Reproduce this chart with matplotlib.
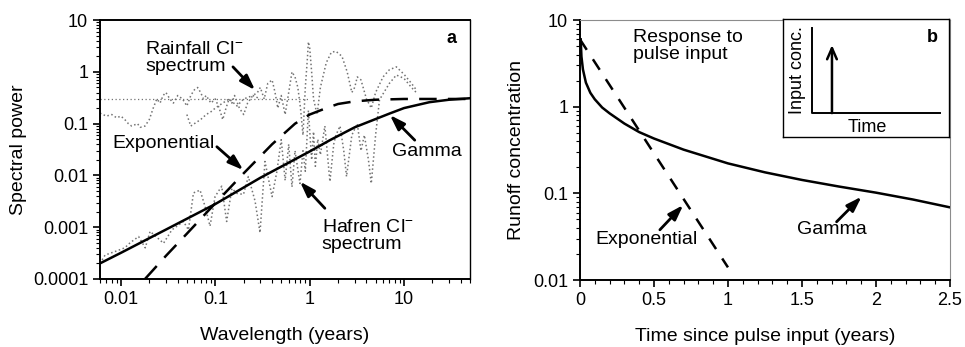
import numpy as np
import matplotlib
matplotlib.use("Agg")
import matplotlib.pyplot as plt

plt.rcParams['font.family'] = ['Liberation Sans', 'DejaVu Sans']
plt.rcParams['mathtext.default'] = 'regular'

# ---- panel a : spectra (wavelength in years, spectral power) ----
gamma_wl = [0.006, 0.01, 0.03, 0.1, 0.3, 1, 1.64, 3, 7.1, 10, 18.6, 30, 50]
gamma_pw = [2.0e-4, 3.2e-4, 9.0e-4, 2.8e-3, 9.0e-3, 0.029, 0.048, 0.085, 0.158, 0.2, 0.26, 0.29, 0.31]

expo_wl = [0.018, 0.03, 0.05, 0.1, 0.2, 0.4, 0.7, 1, 1.5, 2, 3, 5, 10, 50]
expo_pw = [1.0e-4, 2.8e-4, 7.5e-4, 2.9e-3, 1.1e-2, 0.04, 0.1, 0.15, 0.2, 0.24, 0.27, 0.29, 0.30, 0.30]

white_wl = [0.006, 1.0]
white_pw = [0.3, 0.3]

rain_wl = [0.006, 0.007, 0.008, 0.009, 0.010, 0.011, 0.012, 0.013, 0.015, 0.016,
           0.018, 0.020, 0.022, 0.024, 0.026, 0.028, 0.030, 0.033, 0.036, 0.040,
           0.045, 0.050, 0.055, 0.060, 0.065, 0.070, 0.075, 0.080, 0.090, 0.10,
           0.11, 0.12, 0.13, 0.14, 0.15, 0.16, 0.18, 0.20, 0.22, 0.25,
           0.28, 0.30, 0.33, 0.36, 0.40, 0.43, 0.46, 0.50, 0.55, 0.60,
           0.65, 0.70, 0.75, 0.80, 0.85, 0.90, 0.95, 0.97, 1.0, 1.05,
           1.1, 1.2, 1.3, 1.5, 1.7, 1.9, 2.2, 2.5, 2.8, 3.0,
           3.2, 3.5, 4.0, 4.5, 5.0, 6.0, 7.0, 8.3, 10, 12, 13.5]
rain_pw = [0.16, 0.14, 0.15, 0.13, 0.14, 0.12, 0.10, 0.09, 0.10, 0.085,
           0.09, 0.12, 0.20, 0.30, 0.25, 0.35, 0.40, 0.30, 0.25, 0.35,
           0.30, 0.22, 0.35, 0.45, 0.50, 0.40, 0.30, 0.35, 0.25, 0.30,
           0.20, 0.12, 0.20, 0.30, 0.25, 0.35, 0.20, 0.15, 0.25, 0.35,
           0.40, 0.50, 0.30, 0.60, 0.70, 0.40, 0.20, 0.35, 0.15, 0.40,
           1.0, 0.80, 0.50, 0.20, 0.06, 0.50, 2.0, 3.8, 3.0, 1.0,
           0.30, 0.15, 0.50, 1.5, 2.4, 2.5, 2.0, 1.0, 0.40, 0.50,
           0.80, 0.70, 0.30, 0.20, 0.40, 0.80, 1.1, 1.25, 0.90, 0.60, 0.45]

rain2_wl = [0.05, 0.055, 0.06, 0.07, 0.08, 0.09, 0.1, 0.12, 0.14, 0.17, 0.2, 0.25, 0.3]
rain2_pw = [0.15, 0.09, 0.1, 0.12, 0.15, 0.17, 0.2, 0.25, 0.3, 0.22, 0.3, 0.35, 0.3]

hafren_wl = [0.006, 0.0068, 0.0087, 0.011, 0.0125, 0.0154, 0.0181, 0.0204, 0.025, 0.0283,
             0.0347, 0.046, 0.052, 0.0587, 0.069, 0.078, 0.088, 0.0995, 0.117, 0.132,
             0.150, 0.17, 0.199, 0.224, 0.264, 0.298, 0.336, 0.40, 0.45, 0.5,
             0.55, 0.6, 0.65, 0.7, 0.79, 0.85, 0.9, 0.97, 1.05, 1.1,
             1.15, 1.22, 1.3, 1.45, 1.64, 1.8, 1.9, 2.1, 2.3, 2.46,
             2.8, 3.2, 3.5, 3.8, 4.2, 4.5, 5.0, 5.5, 7.0, 8.3, 10, 12, 13.5]
hafren_pw = [2.0e-4, 2.9e-4, 3.4e-4, 4.0e-4, 5.0e-4, 6.6e-4, 4.0e-4, 8.3e-4, 6.0e-4, 4.9e-4,
             8.9e-4, 1.29e-3, 8.9e-4, 4.6e-3, 5.2e-3, 2.5e-3, 1.05e-3, 3.9e-3, 6.2e-3, 1.29e-3,
             5.6e-3, 4.5e-3, 4.3e-3, 9.5e-3, 3.2e-3, 7.8e-4, 0.0186, 3.9e-3, 0.012, 0.049,
             0.008, 0.04, 0.006, 0.03, 7.0e-3, 0.03, 0.012, 0.18, 0.02, 0.07,
             0.015, 0.05, 0.025, 0.09, 7.6e-3, 0.04, 0.06, 0.09, 0.03, 9.5e-3,
             0.06, 0.1, 0.03, 0.06, 0.02, 7.0e-3, 0.06, 0.29, 0.6, 0.87, 0.75, 0.5, 0.4]

# ---- panel b : response to a pulse input ----
gamma_t = [0.005, 0.01, 0.02, 0.04, 0.07, 0.1, 0.15, 0.2, 0.3, 0.4,
           0.5, 0.7, 1.0, 1.25, 1.5, 1.75, 2.0, 2.25, 2.5]
gamma_c = [6.0, 3.8, 2.7, 1.9, 1.45, 1.22, 0.98, 0.84, 0.64, 0.51,
           0.43, 0.32, 0.222, 0.175, 0.143, 0.12, 0.102, 0.085, 0.069]
expo_t = [0.0, 1.0]
expo_c = [6.0, 0.014]

fig = plt.figure(figsize=(9.65, 3.47), dpi=100)
axa = fig.add_axes([0.1036, 0.196, 0.3834, 0.746])
axb = fig.add_axes([0.601, 0.193, 0.3834, 0.749])

grey = '0.45'
axa.plot(white_wl, white_pw, ls=(0, (1, 2)), color=grey, lw=0.9)
axa.plot(rain_wl, rain_pw, ls=':', color=grey, lw=1.1)
axa.plot(rain2_wl, rain2_pw, ls=':', color=grey, lw=1.1)
axa.plot(hafren_wl, hafren_pw, ls=':', color=grey, lw=1.1)
axa.plot(expo_wl, expo_pw, color='k', lw=1.8, ls=(0, (7, 4.5)))
axa.plot(gamma_wl, gamma_pw, color='k', lw=1.8)

axa.set_xscale('log')
axa.set_yscale('log')
axa.set_xlim(0.006, 50)
axa.set_ylim(1e-4, 10)
axa.set_xticks([0.01, 0.1, 1, 10])
axa.set_xticklabels(['0.01', '0.1', '1', '10'])
axa.set_yticks([1e-4, 1e-3, 1e-2, 0.1, 1, 10])
axa.set_yticklabels(['0.0001', '0.001', '0.01', '0.1', '1', '10'])
axa.set_xlabel('Wavelength (years)', fontsize=14, labelpad=14)
axa.set_ylabel('Spectral power', fontsize=14, labelpad=4)
axa.text(0.95, 0.93, 'a', transform=axa.transAxes, fontsize=13, fontweight='bold',
         ha='center', va='center')

arr = dict(arrowstyle='-|>,head_length=0.9,head_width=0.3', color='k', lw=2, shrinkA=0, shrinkB=0)
axa.text(0.0181, 1.85, 'Rainfall Cl$^{-}$\nspectrum', fontsize=14, va='center', linespacing=1.0)
axa.annotate('', xy=(0.264, 0.445), xytext=(0.154, 1.25), arrowprops=arr)
axa.text(0.0081, 0.0423, 'Exponential', fontsize=14, va='center')
axa.annotate('', xy=(0.198, 0.0127), xytext=(0.104, 0.0358), arrowprops=arr)
axa.text(7.38, 0.0288, 'Gamma', fontsize=14, va='center')
axa.annotate('', xy=(7.08, 0.147), xytext=(13.0, 0.048), arrowprops=arr)
axa.text(1.34, 6.8e-4, 'Hafren Cl$^{-}$\nspectrum', fontsize=14, va='center', linespacing=1.0)
axa.annotate('', xy=(0.79, 0.0076), xytext=(1.45, 0.00232), arrowprops=arr)

axb.plot(expo_t, expo_c, color='k', lw=1.8, ls=(0, (5, 4.5)))
axb.plot(gamma_t, gamma_c, color='k', lw=1.8)
axb.set_yscale('log')
axb.set_xlim(0, 2.5)
axb.set_ylim(0.01, 10)
axb.set_xticks([0, 0.5, 1, 1.5, 2, 2.5])
axb.set_xticklabels(['0', '0.5', '1', '1.5', '2', '2.5'])
axb.set_xticks(np.arange(0, 2.51, 0.1), minor=True)
axb.set_yticks([0.01, 0.1, 1, 10])
axb.set_yticklabels(['0.01', '0.1', '1', '10'])
axb.set_xlabel('Time since pulse input (years)', fontsize=14, labelpad=14)
axb.set_ylabel('Runoff concentration', fontsize=14, labelpad=6)
axb.text(0.356, 5.06, 'Response to\npulse input', fontsize=14, va='center', linespacing=1.0)
axb.text(0.101, 0.0295, 'Exponential', fontsize=14, va='center')
axb.annotate('', xy=(0.698, 0.0734), xytext=(0.54, 0.038), arrowprops=arr)
axb.text(1.464, 0.038, 'Gamma', fontsize=14, va='center')
axb.annotate('', xy=(1.903, 0.0917), xytext=(1.734, 0.047), arrowprops=arr)
for side in ['top', 'right']:
    axb.spines[side].set_color('0.55')
    axb.spines[side].set_linewidth(0.8)

for ax in [axa, axb]:
    ax.tick_params(which='major', direction='out', length=5, width=1.2, labelsize=13)
    ax.tick_params(which='minor', direction='out', length=3, width=0.8)
    ax.spines['left'].set_linewidth(1.4)
    ax.spines['bottom'].set_linewidth(1.4)
axa.spines['top'].set_linewidth(1.4)
axa.spines['right'].set_linewidth(1.0)

# inset: schematic of the pulse input
ins = fig.add_axes([0.8114, 0.605, 0.172, 0.34])
ins.set_xlim(0, 1)
ins.set_ylim(0, 1)
ins.set_xticks([])
ins.set_yticks([])
for s in ins.spines.values():
    s.set_linewidth(1.0)
inset_axis_x = [0.175, 0.175, 0.946]
inset_axis_y = [0.924, 0.203, 0.203]
ins.plot(inset_axis_x, inset_axis_y, color='k', lw=1.4)
pulse_t = 0.295
ins.annotate('', xy=(pulse_t, 0.78), xytext=(pulse_t, 0.203),
             arrowprops=dict(arrowstyle='->,head_length=0.8,head_width=0.35', color='k', lw=1.8,
                             shrinkA=0, shrinkB=0))
ins.text(0.09, 0.57, 'Input conc.', rotation=90, fontsize=13, ha='center', va='center')
ins.text(0.506, 0.085, 'Time', fontsize=13, ha='center', va='center')
ins.text(0.90, 0.84, 'b', fontsize=13, fontweight='bold', ha='center', va='center')

fig.savefig('out.png', dpi=100)
